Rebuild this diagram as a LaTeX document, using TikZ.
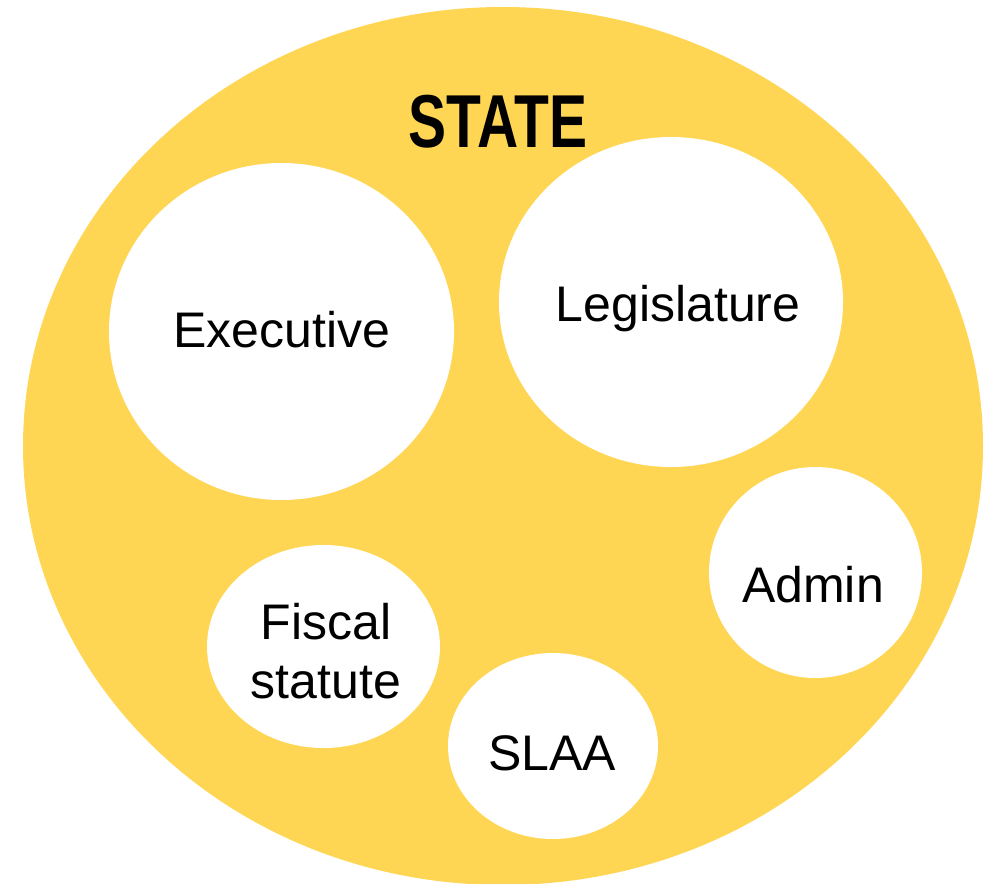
\documentclass[tikz,border=0pt]{standalone}
\usepackage{fontspec}
\setmainfont{Liberation Sans}
\usepackage{graphicx}
\definecolor{stateyellow}{RGB}{255,214,84}
\def\partfont{\fontsize{50}{59}\selectfont}

\begin{document}
\begin{tikzpicture}[x=1pt, y=-1pt]
			%%%%% START %%%%%
			
			\useasboundingbox (0, 0) rectangle (987, 883);
			
			\fill[color=stateyellow] (503, 446) ellipse (480 and 439);
			\node[anchor=base] (state) at (498, 147) {\fontsize{75}{80}\selectfont\bfseries\scalebox{0.76}[1]{STATE}};
			
			\fill[white] (281.5, 331.5) ellipse (172.5 and 168.5);
			\node[anchor=base, font=\partfont] (executive) at (282, 347) {Executive};
			
			\fill[white] (671, 302) ellipse (172 and 165);
			\node[anchor=base, font=\partfont] (legislature) at (678, 321) {Legislature};
			
			\fill[white] (815.5, 572.5) ellipse (106.5 and 105.5);
			\node[anchor=base, font=\partfont] (admin) at (813, 602) {Admin};
			
			\fill[white] (323.5, 646.5) ellipse (116.5 and 101.5);
			\node[anchor=base, font=\partfont, align=center] (fiscal) at (326, 698) {Fiscal\\statute};
			
			\fill[white] (553, 746) ellipse (105 and 93);
			\node[anchor=base, font=\partfont] (slaa) at (552, 770) {SLAA};
			
			%%%%% END %%%%%
\end{tikzpicture}
\end{document}
